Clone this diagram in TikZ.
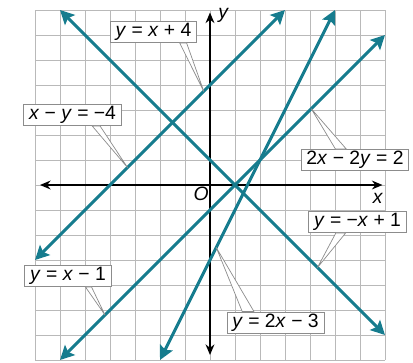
\documentclass[tikz,border=0pt]{standalone}
\usepackage{fontspec}
\setmainfont{Liberation Sans}
\usetikzlibrary{arrows.meta, calc}
\definecolor{LineTeal}{RGB}{22, 124, 142}
\definecolor{GridGray}{RGB}{185, 185, 185}
\definecolor{BoxGray}{RGB}{140, 140, 140}
% wedge from a label edge to a point on a line
\newcommand{\pointer}[5]{%
  \filldraw[pointer] ($(#1.#2 west)!#3!(#1.#2 east)$) -- (#5) -- ($(#1.#2 west)!#4!(#1.#2 east)$) -- cycle;}
\begin{document}
\begin{tikzpicture}[
    x=0.5cm, y=0.5cm,
    font=\fontsize{11}{13}\selectfont,
    gridline/.style={GridGray, line width=0.55pt},
    axis/.style={black, line width=1.1pt, {Stealth[length=6pt,width=5pt]}-{Stealth[length=6pt,width=5pt]}},
    graph/.style={LineTeal, line width=1.7pt, {Stealth[length=8pt,width=8pt,inset=1.5pt]}-{Stealth[length=8pt,width=8pt,inset=1.5pt]}},
    eqlabel/.style={draw=BoxGray, fill=white, line width=0.5pt, inner xsep=3pt, inner ysep=1pt, minimum height=0.42cm},
    pointer/.style={draw=BoxGray, fill=white, line width=0.4pt, line join=round}
  ]
    \useasboundingbox (-8.4,-7.08) rectangle (8.12,7.4);
    \draw[gridline, step={(1,1)}] (-7,-7) grid (7,7);

    \coordinate (xl) at (-6.8,0);
    \coordinate (xr) at (6.9,0);
    \coordinate (yb) at (0,-6.8);
    \coordinate (yt) at (0,6.9);
    \draw[axis] (xl) -- (xr);
    \draw[axis] (yb) -- (yt);
    \node (xlab) at (6.72,-0.55) {\textit{x}};
    \node (ylab) at (0.55,6.8) {\textit{y}};
    \node (olab) at (-0.35,-0.35) {\textit{O}};

    % the four lines
    \coordinate (pA1) at (-7,-3);  \coordinate (pA2) at (3,7);
    \coordinate (pB1) at (-6,7);   \coordinate (pB2) at (7,-6);
    \coordinate (pC1) at (-6,-7);  \coordinate (pC2) at (7,6);
    \coordinate (pD1) at (-2,-7);  \coordinate (pD2) at (5,7);
    \draw[graph] (pA1) -- (pA2);
    \draw[graph] (pB1) -- (pB2);
    \draw[graph] (pC1) -- (pC2);
    \draw[graph] (pD1) -- (pD2);

    % labels
    \node[eqlabel] (lblA) at (-2.26,6.12) {\textit{y} = \textit{x} + 4};
    \node[eqlabel] (lblB) at (-5.5,2.8) {\textit{x} − \textit{y} = −4};
    \node[eqlabel] (lblC) at (5.8,1.0) {2\textit{x} − 2\textit{y} = 2};
    \node[eqlabel] (lblD) at (5.9,-1.48) {\textit{y} = −\textit{x} + 1};
    \node[eqlabel] (lblE) at (-5.68,-3.64) {\textit{y} = \textit{x} − 1};
    \node[eqlabel] (lblF) at (2.62,-5.5) {\textit{y} = 2\textit{x} − 3};

    \coordinate (tipA) at (-0.25,3.75);
    \coordinate (tipB) at (-3.3,0.7);
    \coordinate (tipC) at (4.05,3.05);
    \coordinate (tipD) at (4.3,-3.3);
    \coordinate (tipE) at (-4.2,-5.2);
    \coordinate (tipF) at (0.25,-2.5);
    \pointer{lblA}{south}{0.8}{0.88}{tipA}
    \pointer{lblB}{south}{0.7}{0.78}{tipB}
    \pointer{lblC}{north}{0.32}{0.42}{tipC}
    \pointer{lblD}{south}{0.28}{0.38}{tipD}
    \pointer{lblE}{south}{0.7}{0.77}{tipE}
    \pointer{lblF}{north}{0.16}{0.28}{tipF}
  \end{tikzpicture}
\end{document}
